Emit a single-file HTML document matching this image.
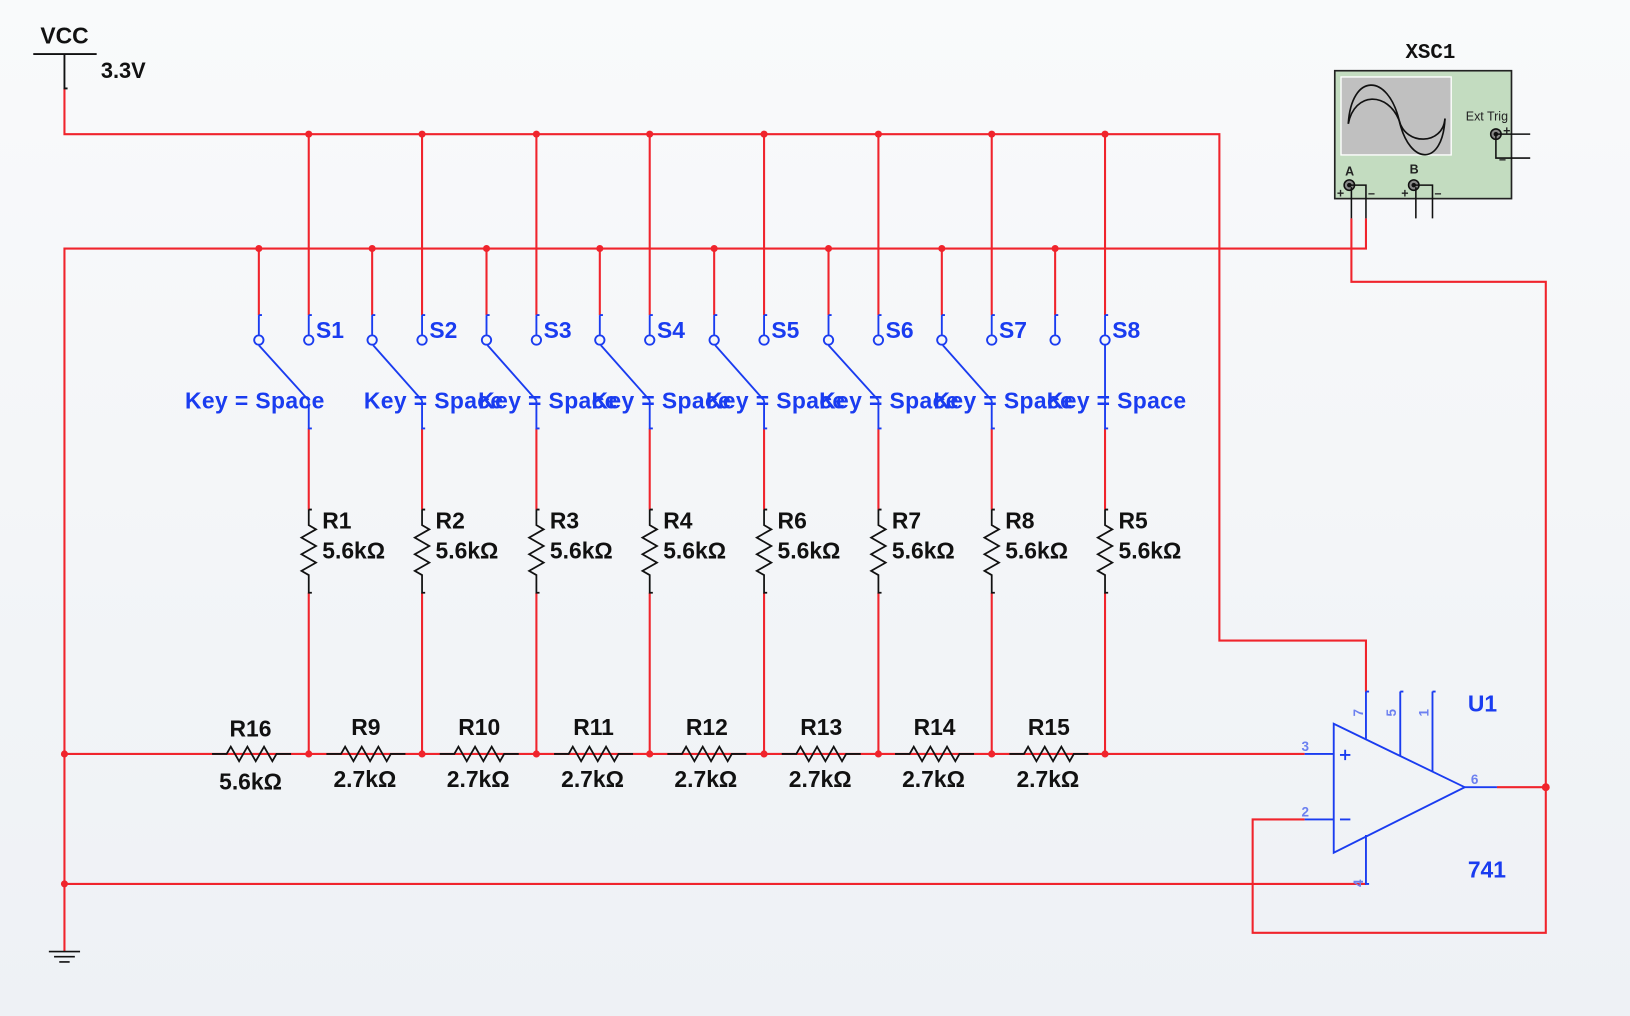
<!DOCTYPE html>
<html><head><meta charset="utf-8"><style>
html,body{margin:0;padding:0;width:1630px;height:1016px;overflow:hidden;background:linear-gradient(#f9fafb,#eef1f5);}
svg{display:block}
text{font-family:"Liberation Sans",sans-serif;font-weight:bold}
</style></head><body>
<svg width="1630" height="1016" viewBox="0 0 1568 977" preserveAspectRatio="none">
<defs>
<g id="sw">
 <path d="M0,129V303M-48,239V303M0,412V490M0,570V725" stroke="#f0242c" stroke-width="2" fill="none"/>
 <circle cx="0" cy="129" r="3.4" fill="#f0242c"/><circle cx="-48" cy="239" r="3.4" fill="#f0242c"/><circle cx="0" cy="725" r="3.4" fill="#f0242c"/>
 <g stroke="#1a3cf0" stroke-width="1.8" fill="none">
  <path d="M-48,303h3M-48,303V322M0,303h3M0,303V322M0,385V412h3"/>
  <circle cx="-48" cy="327" r="4.5"/><circle cx="0" cy="327" r="4.5"/>
 </g>
 <path d="M0,490h3M0,490V505L7,509L-7,517L7,525L-7,533L7,541L-7,549L0,553V570h3" stroke="#111" stroke-width="1.7" fill="none"/>
</g>
<g id="hr">
 <path d="M-38,725H-24L-20,718L-12,732L-4,718L4,732L12,718L20,732L24,725H38" stroke="#111" stroke-width="1.7" fill="none"/>
</g>
</defs>
<g stroke="#f0242c" stroke-width="2" fill="none">
 <path d="M62,85V129H1173V616H1314V665"/>
 <path d="M1314,210V239H62V915"/>
 <path d="M62,725H1255"/>
 <path d="M62,850H1314"/>
 <path d="M1300,210V271H1487V897H1205V788H1255"/>
 <path d="M1440,757H1487"/>
</g>
<g fill="#f0242c"><circle cx="62" cy="725" r="3.4"/><circle cx="62" cy="850" r="3.4"/><circle cx="1487" cy="757" r="3.8"/></g>
<path d="M32,52H93M62,52V85h3" stroke="#111" stroke-width="1.8" fill="none"/>
<text x="62" y="42" font-size="22" text-anchor="middle" fill="#111">VCC</text>
<text x="97" y="75" font-size="21" fill="#111">3.3V</text>
<path d="M47,915H77M52,920H72M57,925H67" stroke="#111" stroke-width="1.6"/>
<use href="#sw" x="297"/><use href="#sw" x="406"/><use href="#sw" x="516"/><use href="#sw" x="625"/>
<use href="#sw" x="735"/><use href="#sw" x="845"/><use href="#sw" x="954"/><use href="#sw" x="1063"/>
<g stroke="#1a3cf0" stroke-width="1.8">
 <line x1="249" y1="332" x2="297" y2="385"/><line x1="359" y1="332" x2="406" y2="385"/><line x1="469" y1="332" x2="516" y2="385"/>
 <line x1="578" y1="332" x2="625" y2="385"/><line x1="688" y1="332" x2="735" y2="385"/><line x1="797" y1="332" x2="845" y2="385"/>
 <line x1="907" y1="332" x2="954" y2="385"/><line x1="1063" y1="332" x2="1063" y2="385"/>
</g>
<g font-size="22" fill="#1a3cf0">
 <text x="304" y="325">S1</text><text x="413" y="325">S2</text><text x="523" y="325">S3</text><text x="632" y="325">S4</text>
 <text x="742" y="325">S5</text><text x="852" y="325">S6</text><text x="961" y="325">S7</text><text x="1070" y="325">S8</text>
 <text x="178" y="393" textLength="134">Key = Space</text><text x="350" y="393" textLength="134">Key = Space</text><text x="460" y="393" textLength="134">Key = Space</text><text x="569" y="393" textLength="134">Key = Space</text>
 <text x="679" y="393" textLength="134">Key = Space</text><text x="788" y="393" textLength="134">Key = Space</text><text x="898" y="393" textLength="134">Key = Space</text><text x="1007" y="393" textLength="134">Key = Space</text>
</g>
<g font-size="22" fill="#111">
 <text x="310" y="508">R1</text><text x="310" y="537">5.6kΩ</text>
 <text x="419" y="508">R2</text><text x="419" y="537">5.6kΩ</text>
 <text x="529" y="508">R3</text><text x="529" y="537">5.6kΩ</text>
 <text x="638" y="508">R4</text><text x="638" y="537">5.6kΩ</text>
 <text x="748" y="508">R6</text><text x="748" y="537">5.6kΩ</text>
 <text x="858" y="508">R7</text><text x="858" y="537">5.6kΩ</text>
 <text x="967" y="508">R8</text><text x="967" y="537">5.6kΩ</text>
 <text x="1076" y="508">R5</text><text x="1076" y="537">5.6kΩ</text>
</g>
<use href="#hr" x="242"/><use href="#hr" x="352"/><use href="#hr" x="461"/><use href="#hr" x="571"/>
<use href="#hr" x="680"/><use href="#hr" x="790"/><use href="#hr" x="899"/><use href="#hr" x="1009"/>
<g font-size="22" fill="#111" text-anchor="middle">
 <text x="241" y="708">R16</text><text x="241" y="759">5.6kΩ</text>
 <text x="352" y="707">R9</text><text x="351" y="757">2.7kΩ</text>
 <text x="461" y="707">R10</text><text x="460" y="757">2.7kΩ</text>
 <text x="571" y="707">R11</text><text x="570" y="757">2.7kΩ</text>
 <text x="680" y="707">R12</text><text x="679" y="757">2.7kΩ</text>
 <text x="790" y="707">R13</text><text x="789" y="757">2.7kΩ</text>
 <text x="899" y="707">R14</text><text x="898" y="757">2.7kΩ</text>
 <text x="1009" y="707">R15</text><text x="1008" y="757">2.7kΩ</text>
</g>
<g stroke="#1a3cf0" stroke-width="1.8" fill="none">
 <path d="M1283,696L1283,820L1409,757Z"/>
 <path d="M1255,725H1283M1255,788H1283M1314,665h3M1314,665V711M1347,665h3M1347,665V727M1378,665h3M1378,665V742M1314,803V850h3M1409,757H1440"/>
 <path d="M1289,726h10M1294,721v10M1289,788h10"/>
</g>
<g font-size="13" fill="#6c80f0" style="font-weight:normal">
 <text x="1252" y="722" font-weight="normal">3</text><text x="1252" y="785" font-weight="normal">2</text><text x="1415" y="754" font-weight="normal">6</text>
 <text transform="translate(1311,689) rotate(-90)" font-weight="normal">7</text>
 <text transform="translate(1343,689) rotate(-90)" font-weight="normal">5</text>
 <text transform="translate(1374,689) rotate(-90)" font-weight="normal">1</text>
 <text transform="translate(1311,853) rotate(-90)" font-weight="normal">4</text>
</g>
<text x="1412" y="684" font-size="22" fill="#1a3cf0">U1</text>
<text x="1412" y="844" font-size="22" fill="#1a3cf0">741</text>
<text x="1376" y="56" font-size="20" fill="#111" text-anchor="middle" style="font-family:'Liberation Mono',monospace">XSC1</text>
<rect x="1284" y="68" width="170" height="123" fill="#c3dcc0" stroke="#222" stroke-width="1.6"/>
<rect x="1290" y="74" width="106" height="75" fill="#c0c0c0" stroke="#fff" stroke-width="1.3"/>
<path d="M1297,119C1300,70 1335,70 1346,116C1356,160 1388,160 1390,114" stroke="#111" stroke-width="1.6" fill="none"/>
<path d="M1297,119C1303,88 1335,88 1346,116C1352,140 1388,140 1390,114" stroke="#111" stroke-width="1.6" fill="none"/>
<text x="1410" y="116" font-size="12" fill="#222" font-weight="normal" style="font-weight:normal">Ext Trig</text>
<g stroke="#111" stroke-width="1.5" fill="none">
 <circle cx="1439" cy="129" r="5" fill="#888"/><path d="M1439,129H1472M1439,129V152H1472"/>
 <circle cx="1298" cy="178" r="5" fill="#888"/><path d="M1300,180V210M1298,178H1314V210"/>
 <circle cx="1360" cy="178" r="5" fill="#888"/><path d="M1362,180V210M1360,178H1378V210"/>
</g>
<g fill="#111"><circle cx="1439" cy="129" r="2.2"/><circle cx="1298" cy="178" r="2.2"/><circle cx="1360" cy="178" r="2.2"/></g>
<g font-size="12" fill="#222" style="font-weight:normal">
 <text x="1294" y="169" font-weight="normal">A</text><text x="1356" y="167" font-weight="normal">B</text>
 <text x="1286" y="190" font-weight="normal">+</text><text x="1316" y="190" font-weight="normal">–</text>
 <text x="1348" y="190" font-weight="normal">+</text><text x="1380" y="190" font-weight="normal">–</text>
 <text x="1446" y="130" font-weight="normal">+</text><text x="1442" y="157" font-weight="normal">–</text>
</g>
</svg>
</body></html>
